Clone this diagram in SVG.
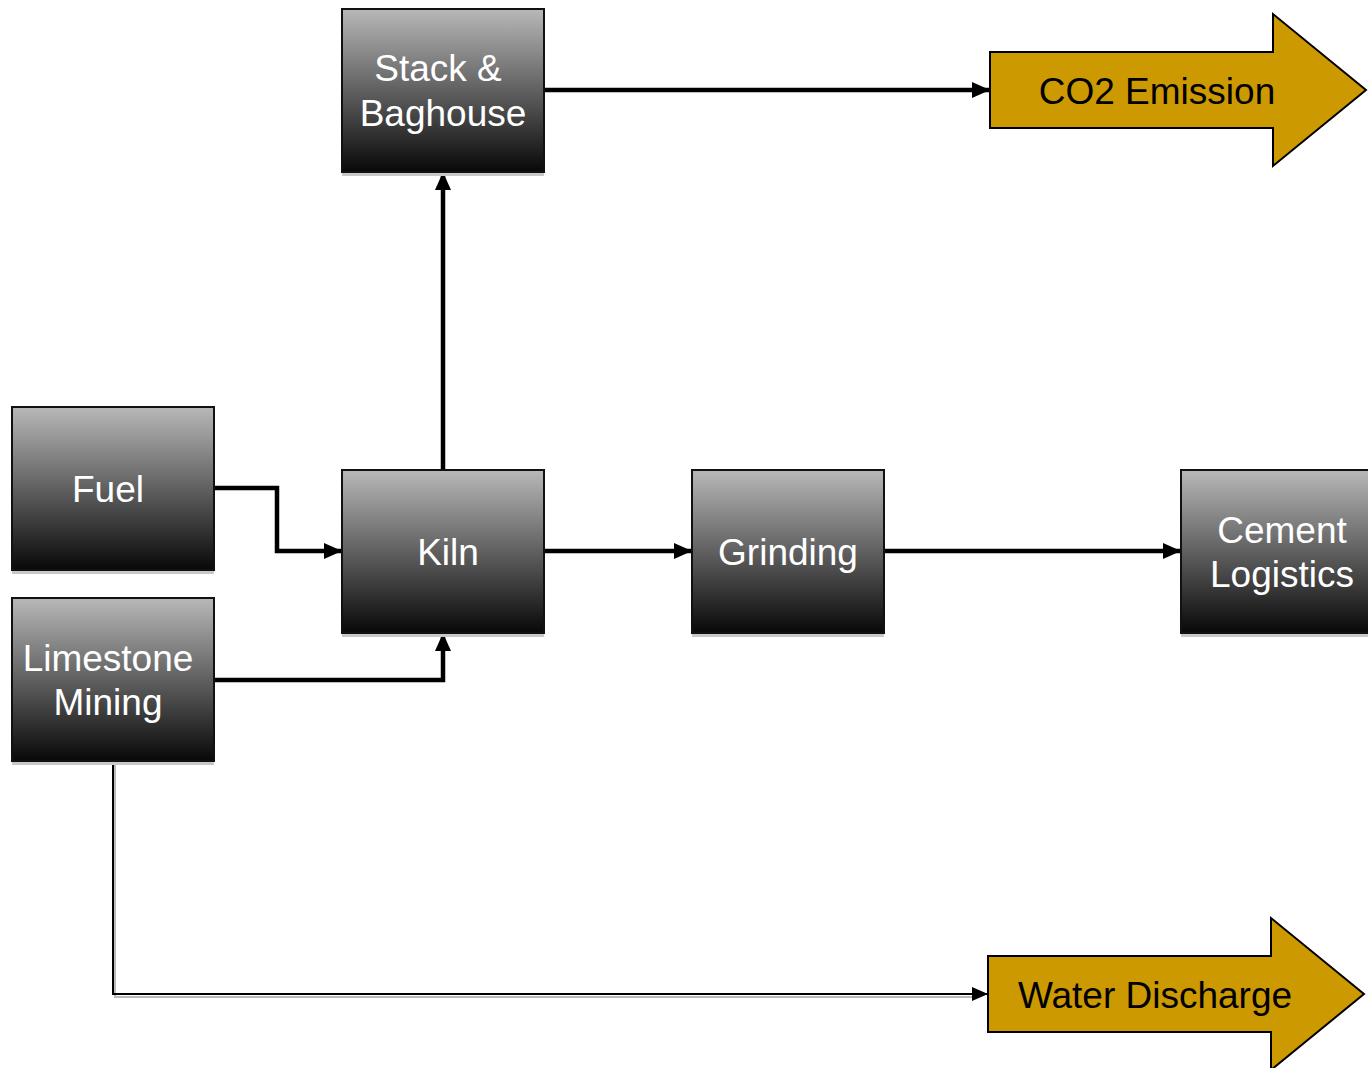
<svg xmlns="http://www.w3.org/2000/svg" width="1368" height="1068" viewBox="0 0 1368 1068">
<style>
.box{fill:url(#g);stroke:#111;stroke-width:2}
.sh{fill:#c8c8c8}
.lbl{font-family:"Liberation Sans",Arial,sans-serif;font-size:37px;fill:#fff;text-anchor:middle}
.lblk{font-family:"Liberation Sans",Arial,sans-serif;font-size:37px;fill:#000;text-anchor:middle}
.big{fill:#cc9900;stroke:#000;stroke-width:2}
.c{fill:none;stroke:#000;stroke-width:4.5}
.t{fill:none;stroke:#000;stroke-width:2}
</style>
<defs>
<linearGradient id="g" x1="0" y1="0" x2="0" y2="1">
<stop offset="0" stop-color="#b8b8b8"/>
<stop offset="1" stop-color="#080808"/>
</linearGradient>
<marker id="a" markerUnits="userSpaceOnUse" markerWidth="18" markerHeight="16" refX="17" refY="8" orient="auto">
<path d="M0,0 L18,8 L0,16 Z" fill="#000"/>
</marker>
<marker id="as" markerUnits="userSpaceOnUse" markerWidth="16" markerHeight="14" refX="15" refY="7" orient="auto">
<path d="M0,0 L16,7 L0,14 Z" fill="#000"/>
</marker>
</defs>
<rect width="1368" height="1068" fill="#fff"/>
<g id="connectors">
<path class="c" d="M544,90 H989" marker-end="url(#a)"/>
<path class="c" d="M214,488 H277 V551 H341" marker-end="url(#a)"/>
<path class="c" d="M214,680 H443 V634" marker-end="url(#a)"/>
<path class="c" d="M443,470 V173" marker-end="url(#a)"/>
<path class="c" d="M544,551 H691" marker-end="url(#a)"/>
<path class="c" d="M884,551 H1180" marker-end="url(#a)"/>
<path d="M115,763 V997 H975" fill="none" stroke="#bbb" stroke-width="2"/>
<path class="t" d="M113,761 V994 H987" marker-end="url(#as)"/>
</g>
<g id="stack">
<rect class="sh" x="342" y="172" width="202" height="4"/>
<rect class="box" x="342" y="9" width="202" height="163"/>
<text class="lbl" x="438" y="81">Stack &amp;</text>
<text class="lbl" x="443" y="126">Baghouse</text>
</g>
<g id="fuel">
<rect class="sh" x="12" y="570" width="202" height="4"/>
<rect class="box" x="12" y="407" width="202" height="163"/>
<text class="lbl" x="108" y="502">Fuel</text>
</g>
<g id="limestone">
<rect class="sh" x="12" y="761" width="202" height="4"/>
<rect class="box" x="12" y="598" width="202" height="163"/>
<text class="lbl" x="108" y="671">Limestone</text>
<text class="lbl" x="108" y="715">Mining</text>
</g>
<g id="kiln">
<rect class="sh" x="342" y="633" width="202" height="4"/>
<rect class="box" x="342" y="470" width="202" height="163"/>
<text class="lbl" x="448" y="565">Kiln</text>
</g>
<g id="grinding">
<rect class="sh" x="692" y="633" width="192" height="4"/>
<rect class="box" x="692" y="470" width="192" height="163"/>
<text class="lbl" x="788" y="565">Grinding</text>
</g>
<g id="cement">
<rect class="sh" x="1181" y="633" width="200" height="4"/>
<rect class="box" x="1181" y="470" width="200" height="163"/>
<text class="lbl" x="1282" y="543">Cement</text>
<text class="lbl" x="1282" y="587">Logistics</text>
</g>
<g id="co2">
<path class="big" d="M990,52 H1273 V14 L1366,90 L1273,166 V128 H990 Z"/>
<text class="lblk" x="1157" y="104">CO2 Emission</text>
</g>
<g id="water">
<path class="big" d="M988,956 H1271 V918 L1364,994 L1271,1070 V1032 H988 Z"/>
<text class="lblk" x="1155" y="1008">Water Discharge</text>
</g>
</svg>
